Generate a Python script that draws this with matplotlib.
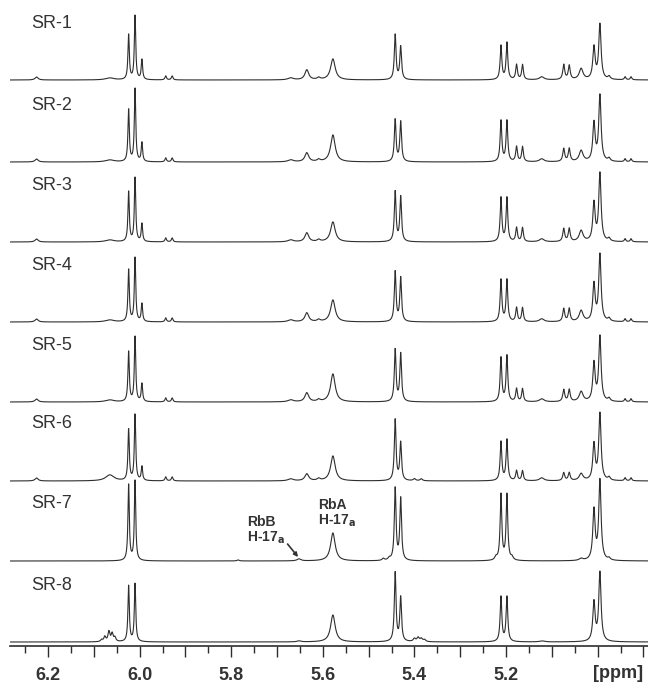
import numpy as np
import matplotlib
matplotlib.use("Agg")
import matplotlib.pyplot as plt
from matplotlib.ticker import FixedLocator, FuncFormatter

# ---------------- data ----------------
spectrum_labels = ["SR-1", "SR-2", "SR-3", "SR-4", "SR-5", "SR-6", "SR-7", "SR-8"]

peak_ppm = [6.225, 6.083, 6.076, 6.067, 6.060, 6.054, 6.065, 6.024, 6.010, 5.995,
            5.943, 5.929, 5.785, 5.670, 5.652, 5.635, 5.609, 5.578, 5.468, 5.455,
            5.442, 5.430, 5.400, 5.392, 5.385, 5.378, 5.222, 5.211, 5.198, 5.187,
            5.177, 5.164, 5.122, 5.074, 5.062, 5.036, 5.008, 4.995, 4.975, 4.940,
            4.927]
peak_hwhm = [0.004, 0.0025, 0.0025, 0.0025, 0.0025, 0.0025, 0.011, 0.0018, 0.0018, 0.0018,
             0.002, 0.002, 0.003, 0.007, 0.005, 0.005, 0.004, 0.006, 0.003, 0.003,
             0.0022, 0.0022, 0.003, 0.003, 0.003, 0.003, 0.003, 0.0022, 0.0022, 0.003,
             0.0022, 0.0022, 0.006, 0.0025, 0.0025, 0.005, 0.003, 0.003, 0.003, 0.002,
             0.002]

sr1_heights = [3, 0, 0, 0, 0, 0, 2, 45, 64, 20, 4, 4, 0, 2, 0, 10, 2, 21, 0, 0, 45, 33, 0, 0, 0, 0, 0, 34, 37, 0, 15, 15, 3, 15, 14, 11, 32, 55, 3, 3, 3]
sr2_heights = [3, 0, 0, 0, 0, 0, 2, 52, 73, 19, 4, 4, 0, 2, 0, 9, 2, 27, 0, 0, 42, 40, 0, 0, 0, 0, 0, 41, 41, 0, 15, 15, 3, 13, 13, 11, 38, 66, 3, 3, 3]
sr3_heights = [3, 0, 0, 0, 0, 0, 2, 50, 64, 18, 4, 4, 0, 2, 0, 9, 2, 20, 0, 0, 50, 45, 0, 0, 0, 0, 0, 44, 44, 0, 14, 14, 3, 13, 13, 11, 38, 68, 3, 3, 3]
sr4_heights = [3, 0, 0, 0, 0, 0, 2, 52, 64, 18, 4, 4, 0, 2, 0, 9, 2, 22, 0, 0, 50, 44, 0, 0, 0, 0, 0, 42, 42, 0, 14, 14, 3, 13, 13, 11, 37, 67, 3, 3, 3]
sr5_heights = [3, 0, 0, 0, 0, 0, 2, 50, 65, 18, 4, 4, 0, 2, 0, 9, 2, 28, 0, 0, 52, 48, 0, 0, 0, 0, 0, 44, 46, 0, 13, 13, 3, 12, 12, 10, 38, 65, 3, 3, 3]
sr6_heights = [3, 0, 0, 0, 0, 0, 6, 51, 66, 14, 4, 4, 0, 2, 0, 7, 2, 25, 0, 0, 61, 38, 2, 0, 2, 0, 0, 39, 41, 0, 10, 10, 3, 8, 8, 7, 36, 67, 3, 3, 3]
sr7_heights = [0, 0, 0, 0, 0, 0, 0, 76, 80, 0, 0, 0, 1, 0, 2, 0, 0, 28, 2, 2, 72, 62, 0, 0, 0, 0, 3, 66, 66, 3, 0, 0, 0, 0, 0, 2, 50, 80, 2, 0, 0]
sr8_heights = [0, 2, 5, 10, 8, 4, 0, 56, 58, 0, 0, 0, 0, 0, 1, 0, 0, 27, 0, 0, 69, 44, 3, 4, 3, 2, 0, 45, 45, 0, 0, 0, 1, 0, 0, 0, 39, 69, 0, 0, 0]

tick_values = [6.2, 6.0, 5.8, 5.6, 5.4, 5.2]

# ---------------- layout ----------------
W, H = 648, 685
fig = plt.figure(figsize=(W / 100, H / 100), dpi=100)
ax = fig.add_axes([10 / W, 39 / H, 638 / W, 646 / H])
ax.set_xlim(6.283, 4.890)
ax.set_ylim(0, 646)

line_color = "#2e2e2e"
text_color = "#333333"
baseline_px = [80, 162, 242, 322, 402, 481, 561, 642]

x = np.linspace(6.283, 4.890, 6000)
all_heights = [sr1_heights, sr2_heights, sr3_heights, sr4_heights,
               sr5_heights, sr6_heights, sr7_heights, sr8_heights]

for label, heights, bpx in zip(spectrum_labels, all_heights, baseline_px):
    y = np.zeros_like(x)
    for c, w, h in zip(peak_ppm, peak_hwhm, heights):
        if h:
            y += h / (1 + ((x - c) / w) ** 2)
    off = 646 - bpx
    ax.plot(x, y + off, color=line_color, lw=0.8)
    ax.text(30 / W * 0 + 0, 0, "")  # placeholder no-op
    fig.text(31 / W, 1 - (bpx - 57) / H, label, fontsize=13, color=text_color,
             family="Liberation Sans", va="center", ha="left")

# annotations in SR-7
off7 = 646 - baseline_px[6]
ann_kw = dict(fontsize=10, fontweight="bold", color=text_color, family="Liberation Sans")
ax.text(5.765, off7 + 39, "RbB", ha="left", va="center", **ann_kw)
ax.text(5.765, off7 + 23, r"H-17$_\mathbf{a}$", ha="left", va="center", **ann_kw)
ax.text(5.610, off7 + 56, "RbA", ha="left", va="center", **ann_kw)
ax.text(5.610, off7 + 40, r"H-17$_\mathbf{a}$", ha="left", va="center", **ann_kw)
ax.annotate("", xy=(5.654, off7 + 4), xytext=(5.677, off7 + 17),
            arrowprops=dict(arrowstyle="-|>", color=text_color, lw=1.2,
                            mutation_scale=6, shrinkA=0, shrinkB=0))

# axes styling
for s in ["top", "left", "right"]:
    ax.spines[s].set_visible(False)
ax.spines["bottom"].set_linewidth(1.2)
ax.spines["bottom"].set_color(line_color)
ax.set_yticks([])
major = np.round(np.arange(6.2, 4.85, -0.1), 2)
minor = np.round(np.arange(6.25, 4.85, -0.05), 3)
ax.xaxis.set_major_locator(FixedLocator(major))
ax.xaxis.set_minor_locator(FixedLocator(minor))
ax.xaxis.set_major_formatter(FuncFormatter(
    lambda v, p: f"{v:.1f}" if any(abs(v - t) < 1e-6 for t in tick_values) else ""))
ax.tick_params(axis="x", which="major", direction="out", length=8, width=1.0,
               color=line_color, pad=7, labelsize=13, labelcolor=text_color)
ax.tick_params(axis="x", which="minor", direction="out", length=5, width=1.0,
               color=line_color)
for lab in ax.get_xticklabels():
    lab.set_fontweight("bold")
    lab.set_family("Liberation Sans")
fig.text(618 / W, 1 - 674 / H, "[ppm]", fontsize=13, fontweight="bold",
         family="Liberation Sans", color=text_color, ha="center", va="center")

fig.savefig("out.png", dpi=100, facecolor="white")
